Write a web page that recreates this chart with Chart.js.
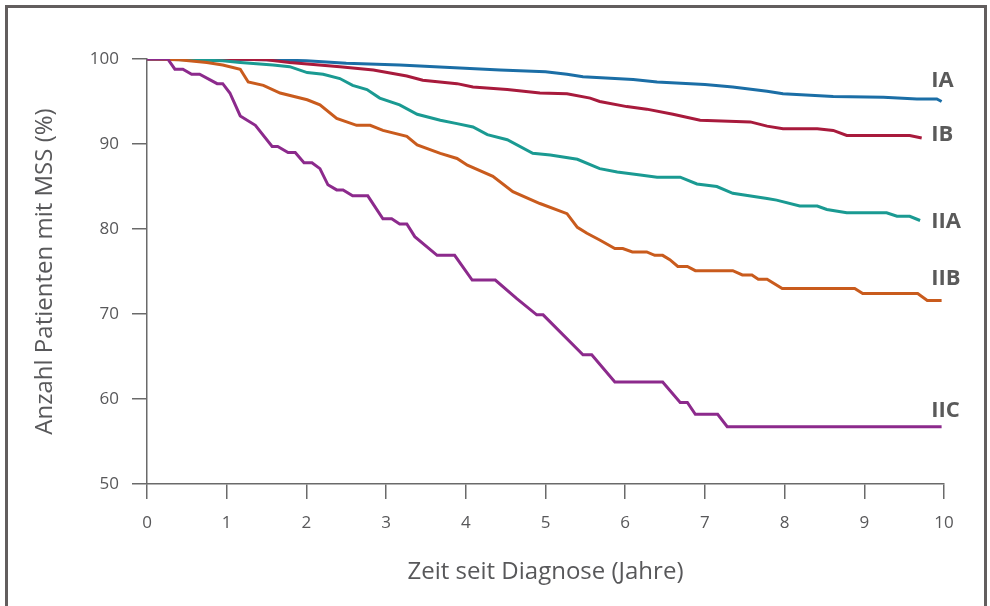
<!DOCTYPE html>
<html>
<head>
<meta charset="utf-8">
<script src="https://cdn.jsdelivr.net/npm/chart.js@4"></script>
<style>
    body { margin: 0; background: #fff; }
    #wrap { position: relative; width: 990px; height: 606px; overflow: hidden; }
    #frame { position: absolute; left: 5px; top: 5px; width: 976px; height: 700px; border: 3px solid #625e5e; pointer-events: none; }
    canvas { position: absolute; left: 0; top: 0; }
</style>
</head>
<body>
<div id="wrap">
    <canvas id="chart" width="990" height="606"></canvas>
    <div id="frame"></div>
</div>
<script>
// Stadien (Serien)
const stages = ['IA', 'IB', 'IIA', 'IIB', 'IIC'];

// Zeit (Jahre) und Überlebensrate (%) je Stadium
const iaYears = [0, 1.0, 1.5, 2.0, 2.5, 3.17, 3.8, 4.43, 5.0, 5.27, 5.47, 6.10, 6.40, 7.0, 7.35, 7.78, 7.98, 8.61, 9.24, 9.66, 9.91, 9.97];
const iaValues = [100, 100, 99.9, 99.8, 99.5, 99.3, 99.0, 98.7, 98.5, 98.2, 97.9, 97.6, 97.3, 97.0, 96.7, 96.2, 95.9, 95.6, 95.5, 95.3, 95.3, 95.0];

const ibYears = [0, 1.0, 1.5, 1.79, 2.42, 2.84, 3.26, 3.46, 3.89, 4.09, 4.52, 4.93, 5.27, 5.56, 5.68, 6.02, 6.27, 6.60, 6.94, 7.57, 7.78, 7.98, 8.41, 8.61, 8.78, 9.57, 9.72];
const ibValues = [100, 100, 99.9, 99.6, 99.1, 98.7, 98.0, 97.5, 97.1, 96.7, 96.4, 96.0, 95.9, 95.4, 95.0, 94.4, 94.1, 93.5, 92.8, 92.6, 92.1, 91.8, 91.8, 91.6, 91.0, 91.0, 90.7];

const iiaYears = [0, 0.5, 0.95, 1.17, 1.58, 1.79, 2.01, 2.21, 2.42, 2.58, 2.76, 2.92, 3.17, 3.39, 3.68, 3.89, 4.09, 4.27, 4.52, 4.84, 5.06, 5.40, 5.68, 5.90, 6.19, 6.40, 6.69, 6.90, 7.15, 7.35, 7.78, 7.90, 8.19, 8.41, 8.53, 8.78, 9.28, 9.41, 9.57, 9.70];
const iiaValues = [100, 99.9, 99.8, 99.6, 99.3, 99.1, 98.4, 98.2, 97.7, 96.9, 96.4, 95.4, 94.6, 93.5, 92.8, 92.4, 92.0, 91.1, 90.5, 88.9, 88.7, 88.2, 87.1, 86.7, 86.35, 86.1, 86.1, 85.3, 85.0, 84.2, 83.6, 83.4, 82.7, 82.7, 82.3, 81.9, 81.9, 81.5, 81.5, 81.0];

const iibYears = [0, 0.4, 0.75, 0.95, 1.17, 1.27, 1.46, 1.67, 2.01, 2.17, 2.38, 2.63, 2.80, 2.96, 3.26, 3.39, 3.68, 3.89, 4.02, 4.34, 4.59, 4.93, 5.27, 5.40, 5.52, 5.68, 5.87, 5.97, 6.09, 6.27, 6.37, 6.47, 6.56, 6.66, 6.78, 6.88, 7.35, 7.47, 7.59, 7.67, 7.78, 7.97, 8.88, 8.98, 9.67, 9.79, 9.97];
const iibValues = [100, 99.9, 99.6, 99.3, 98.8, 97.3, 96.9, 96.0, 95.2, 94.6, 93.0, 92.2, 92.2, 91.6, 90.9, 89.9, 88.9, 88.3, 87.5, 86.2, 84.4, 83.0, 81.8, 80.2, 79.5, 78.7, 77.7, 77.7, 77.3, 77.3, 76.9, 76.9, 76.4, 75.6, 75.6, 75.1, 75.1, 74.6, 74.6, 74.1, 74.1, 73.0, 73.0, 72.4, 72.4, 71.6, 71.6];

const iicYears = [0, 0.26, 0.35, 0.45, 0.56, 0.66, 0.88, 0.95, 1.04, 1.17, 1.36, 1.57, 1.64, 1.77, 1.86, 1.97, 2.07, 2.17, 2.27, 2.38, 2.46, 2.58, 2.77, 2.96, 3.07, 3.17, 3.26, 3.36, 3.64, 3.86, 4.08, 4.37, 4.64, 4.89, 4.97, 5.47, 5.58, 5.87, 6.47, 6.69, 6.78, 6.88, 7.16, 7.28, 9.97];
const iicValues = [100, 100, 98.8, 98.8, 98.2, 98.2, 97.1, 97.1, 96.0, 93.3, 92.2, 89.7, 89.7, 89.0, 89.0, 87.8, 87.8, 87.1, 85.2, 84.6, 84.6, 83.9, 83.9, 81.2, 81.2, 80.6, 80.6, 79.1, 76.9, 76.9, 74.0, 74.0, 71.8, 69.9, 69.9, 65.2, 65.2, 62.0, 62.0, 59.6, 59.6, 58.2, 58.2, 56.75, 56.75];

// Achsenbeschriftungen
const xTicks = [0, 1, 2, 3, 4, 5, 6, 7, 8, 9, 10];
const yTicks = [50, 60, 70, 80, 90, 100];

const FONT = "'Open Sans', 'DejaVu Sans', sans-serif";
const TEXT = '#58585a';
const AXIS = '#6a6a6a';

function toPoints(xs, ys) {
    return xs.map((x, i) => ({ x: x, y: ys[i] }));
}

const seriesData = [
    toPoints(iaYears, iaValues),
    toPoints(ibYears, ibValues),
    toPoints(iiaYears, iiaValues),
    toPoints(iibYears, iibValues),
    toPoints(iicYears, iicValues)
];
const colors = ['#1b6ea6', '#a81a3c', '#1a9a92', '#c95b1d', '#8c2a8c'];

// Beschriftung am Kurvenende (Position in Achsenwerten)
const endLabels = {
    id: 'endLabels',
    afterDatasetsDraw(chart) {
        const { ctx, scales } = chart;
        const labelX = 9.84;
        const labelY = [97.4, 91.05, 80.9, 74.2, 58.6];
        ctx.save();
        ctx.font = "bold 22px " + FONT;
        ctx.fillStyle = '#5a5a5a';
        ctx.textBaseline = 'middle';
        ctx.textAlign = 'left';
        stages.forEach((s, i) => {
            ctx.fillText(s, scales.x.getPixelForValue(labelX), scales.y.getPixelForValue(labelY[i]));
        });
        ctx.restore();
    }
};

const ctx = document.getElementById('chart').getContext('2d');
new Chart(ctx, {
    type: 'line',
    data: {
        datasets: stages.map((s, i) => ({
            label: s,
            data: seriesData[i],
            borderColor: colors[i],
            backgroundColor: colors[i],
            borderWidth: 3,
            pointRadius: 0,
            tension: 0,
            fill: false,
            order: stages.length - i
        }))
    },
    options: {
        responsive: false,
        animation: false,
        devicePixelRatio: 1,
        layout: { padding: { left: 0, right: 46, top: 59, bottom: 0 } },
        plugins: { legend: { display: false }, tooltip: { enabled: false } },
        scales: {
            x: {
                type: 'linear',
                min: 0,
                max: 10,
                afterFit(scale) { scale.height = 122; },
                afterBuildTicks(scale) { scale.ticks = xTicks.map(v => ({ value: v })); },
                grid: { drawOnChartArea: false, color: AXIS, lineWidth: 1.5, tickLength: 15 },
                border: { color: AXIS, width: 1.5 },
                ticks: { color: TEXT, font: { family: FONT, size: 17 }, padding: 14, maxRotation: 0 },
                title: { display: true, text: 'Zeit seit Diagnose (Jahre)', color: TEXT, font: { family: FONT, size: 24 }, padding: { top: 0, bottom: 19 } }
            },
            y: {
                type: 'linear',
                min: 50,
                max: 100,
                afterFit(scale) { scale.width = 147; },
                afterBuildTicks(scale) { scale.ticks = yTicks.map(v => ({ value: v })); },
                grid: { drawOnChartArea: false, color: AXIS, lineWidth: 1.5, tickLength: 15 },
                border: { color: AXIS, width: 1.5 },
                ticks: { color: TEXT, font: { family: FONT, size: 17 }, padding: 13 },
                title: { display: true, text: 'Anzahl Patienten mit MSS (%)', color: TEXT, font: { family: FONT, size: 24 }, padding: { top: 31, bottom: 0 } }
            }
        }
    },
    plugins: [endLabels]
});
</script>
</body>
</html>
